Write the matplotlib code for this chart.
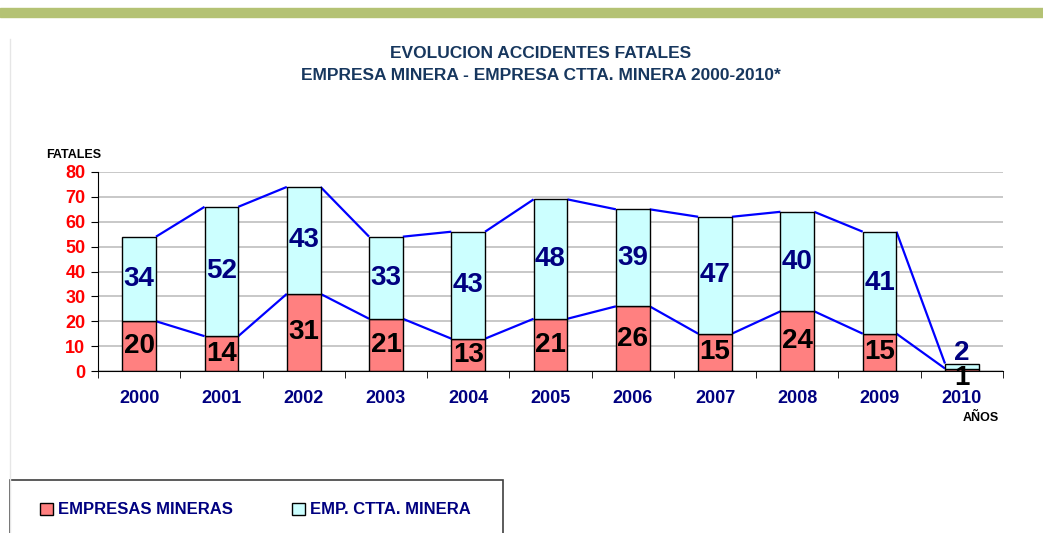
import numpy as np
import matplotlib
matplotlib.use('Agg')
from matplotlib import pyplot as plt
from matplotlib.patches import Rectangle
from matplotlib.lines import Line2D

years = ['2000', '2001', '2002', '2003', '2004', '2005', '2006', '2007', '2008', '2009', '2010']
mineras = [20, 14, 31, 21, 13, 21, 26, 15, 24, 15, 1]
contratistas = [34, 52, 43, 33, 43, 48, 39, 47, 40, 41, 2]
series_names = ['EMPRESAS MINERAS', 'EMP. CTTA. MINERA']
title_lines = ['EVOLUCION ACCIDENTES FATALES', 'EMPRESA MINERA - EMPRESA CTTA. MINERA 2000-2010*']

plt.rcParams['font.family'] = ['Liberation Sans', 'DejaVu Sans']

W, H = 1043, 533
fig = plt.figure(figsize=(W / 100, H / 100), dpi=100)

def fx(px):
    return px / W

def fy(py):
    return 1 - py / H

# green band on top
fig.patches.append(Rectangle((0, fy(17)), 1, (17 - 8) / H, transform=fig.transFigure,
                             color='#B4C274', zorder=0))
# faint chart area border
fig.lines.append(Line2D([fx(9.5), fx(9.5)], [fy(39), 0], transform=fig.transFigure,
                        color='#E6E6E6', lw=1))

ax = fig.add_axes([fx(98), fy(371), (1003 - 98) / W, (371 - 172) / H])

x = np.arange(len(years))
w = 0.41
red = np.array(mineras)
cyan = np.array(contratistas)
b1 = ax.bar(x, red, w, color='#FF8080', edgecolor='black', lw=1, zorder=3)
b2 = ax.bar(x, cyan, w, bottom=red, color='#CCFFFF', edgecolor='black', lw=1, zorder=3)

# series lines between bars
for tops in [red, red + cyan]:
    for i in range(len(x) - 1):
        ax.plot([x[i] + w / 2, x[i + 1] - w / 2], [tops[i], tops[i + 1]],
                color='#0000FF', lw=1.6, zorder=2, solid_capstyle='butt')

# data labels (small segments pushed outside the bar)
for i in range(len(x)):
    for val, base, col, off_small in [(red[i], 0, 'black', -8), (cyan[i], red[i], '#000080', 13)]:
        off = 0 if val >= 5 else off_small
        ax.annotate(str(val), (x[i], base + val / 2), xytext=(0, off), textcoords='offset pixels',
                    ha='center', va='center', fontsize=20, fontweight='bold', color=col, zorder=5)

ax.set_xlim(-0.5, len(x) - 0.5)
ax.set_ylim(0, 80)
ax.set_yticks(range(0, 81, 10))
ax.set_xticks(x)
ax.set_xticklabels(years)
ax.set_xticks(np.arange(-0.5, len(x), 1), minor=True)
ax.tick_params(axis='x', which='major', length=0, pad=13.5, labelsize=13, labelcolor='#000080')
ax.tick_params(axis='x', which='minor', length=5, direction='out', color='black')
ax.tick_params(axis='y', length=5, direction='out', pad=4, labelsize=13, labelcolor='#FF0000')
for lab in ax.get_xticklabels() + ax.get_yticklabels():
    lab.set_fontweight('bold')
ax.grid(axis='y', color='#C4C4C4', lw=1.3, zorder=0)
ax.set_axisbelow(True)
for s in ['top', 'right']:
    ax.spines[s].set_visible(False)
for s in ['left', 'bottom']:
    ax.spines[s].set_color('black')
    ax.spines[s].set_zorder(4)

fig.text(fx(73.5), fy(155), 'FATALES', ha='center', va='center', fontsize=9, fontweight='bold', color='black')
fig.text(fx(981), fy(418), 'AÑOS', ha='center', va='center', fontsize=9, fontweight='bold', color='black')

fig.text(fx(541), fy(53), title_lines[0], ha='center', va='center', fontsize=12.5, fontweight='bold', color='#17375E')
fig.text(fx(541), fy(75), title_lines[1], ha='center', va='center', fontsize=12.5, fontweight='bold', color='#17375E')

# legend box
fig.patches.append(Rectangle((fx(9.5), fy(560)), (503 - 9.5) / W, (560 - 480) / H,
                             transform=fig.transFigure, fill=False, edgecolor='#404040', lw=1.2))
leg = fig.legend([b1, b2], series_names, loc='center left', bbox_to_anchor=(fx(25), fy(510)),
                 ncol=2, frameon=False, handlelength=0.75, handleheight=0.75, handletextpad=0.3,
                 columnspacing=3.6, prop={'size': 12, 'weight': 'bold'})
for t in leg.get_texts():
    t.set_color('#000080')

fig.savefig('out.png', dpi=100)
